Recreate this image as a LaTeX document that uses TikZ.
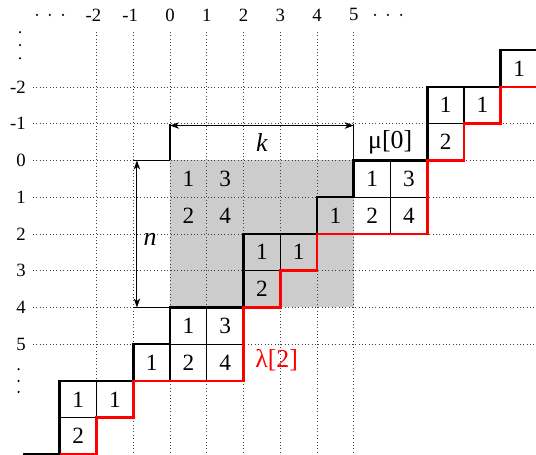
\documentclass[tikz,border=0pt]{standalone}
\usepackage{fontspec}
\setmainfont{Liberation Serif}
\newfontfamily\tmsfont{Liberation Serif}
\usetikzlibrary{arrows.meta}
\begin{document}
\begin{tikzpicture}[x=1cm,y=-1cm,
  gridline/.style={dotted, line width=0.6pt, black!75},
  cellline/.style={line width=0.8pt, black},
  upperpath/.style={line width=2pt, black},
  lowerpath/.style={line width=2pt, red},
  entry/.style={font=\tmsfont\fontsize{18}{20}\selectfont, inner sep=0pt},
  axlab/.style={font=\tmsfont\fontsize{14.5}{16}\selectfont, inner sep=0pt},
  biglab/.style={font=\tmsfont\fontsize{20}{22}\selectfont, inner sep=0pt},
  dimline/.style={line width=0.7pt, {Stealth[length=7pt,width=5pt,inset=2pt]}-{Stealth[length=7pt,width=5pt,inset=2pt]}},
  extline/.style={line width=0.8pt, black},
  dotmark/.style={fill=black}
]
\useasboundingbox (-4.626,-4.366) rectangle (9.959,7.994);
% shaded fundamental region
\fill[black!20] (0,0) rectangle (5,4);
% dotted grid
\foreach \c in {-2,...,5} \draw[gridline] (\c,-3.5) -- (\c,8.1);
\foreach \r in {-2,...,5} \draw[gridline] (-3.73,\r) -- (10.1,\r);
% thin internal cell lines
\foreach \c/\r in {5/0,0/4,10/-4} {
  \draw[cellline] (\c,\r+1) -- (\c+2,\r+1);
  \draw[cellline] (\c+1,\r) -- (\c+1,\r+2);
}
\foreach \c/\r in {2/2,7/-2,-3/6} {
  \draw[cellline] (\c+1,\r) -- (\c+1,\r+1);
  \draw[cellline] (\c,\r+1) -- (\c+1,\r+1);
}
\draw[cellline] (0,5) -- (0,6);
% dimension lines
\coordinate (k0) at (0,-1); \coordinate (k0b) at (0,0);
\coordinate (k5) at (5,-1); \coordinate (k5b) at (5,0);
\coordinate (n0) at (-1,0); \coordinate (n0b) at (0,0);
\coordinate (n4) at (-1,4); \coordinate (n4b) at (0,4);
\draw[extline] (k0) -- (k0b);
\draw[extline] (k5) -- (k5b);
\draw[extline] (n0) -- (n0b);
\draw[extline] (n4) -- (n4b);
\coordinate (ka) at (0,-0.95); \coordinate (kb) at (5,-0.95);
\coordinate (na) at (-0.9,0); \coordinate (nb) at (-0.9,4);
\draw[dimline] (ka) -- (kb);
\draw[dimline] (na) -- (nb);
\node[biglab] (klab) at (2.5,-0.49) {\itshape k};
\node[biglab] (nlab) at (-0.54,2.15) {\itshape n};
% boundary paths
\draw[upperpath] (-4,8) -- (-3,8) -- (-3,6) -- (-1,6) -- (-1,5) -- (0,5) -- (0,4) -- (2,4) -- (2,2) -- (4,2) -- (4,1) -- (5,1) -- (5,0) -- (7,0) -- (7,-2) -- (9,-2) -- (9,-3) -- (10.2,-3);
\draw[lowerpath] (10.2,-2) -- (9,-2) -- (9,-1) -- (8,-1) -- (8,0) -- (7,0) -- (7,2) -- (4,2) -- (4,3) -- (3,3) -- (3,4) -- (2,4) -- (2,6) -- (-1,6) -- (-1,7) -- (-2,7) -- (-2,8) -- (-3,8);
% entries
\foreach \c/\r/\v [count=\i] in {9/-3/1, 7/-2/1, 8/-2/1, 7/-1/2, 5/0/1, 6/0/3, 4/1/1, 5/1/2, 6/1/4, 2/2/1, 3/2/1, 2/3/2, 0/4/1, 1/4/3, -1/5/1, 0/5/2, 1/5/4, -3/6/1, -2/6/1, -3/7/2, 0/0/1, 1/0/3, 0/1/2, 1/1/4}
  \node[entry] (e\i) at (\c+0.5,\r+0.5) {\v};
% labels
\node[biglab] (mulab) at (5.99,-0.505) {μ[0]};
\node[biglab, text=red] (lamlab) at (2.9,5.43) {λ[2]};
% axis labels
\foreach \c/\t [count=\i] in {-2/\llap{-}2, -1/\llap{-}1, 0/0, 1/1, 2/2, 3/3, 4/4, 5/5}
  \node[axlab] (col\i) at (\c,-3.96) {\t};
\foreach \r/\t [count=\i] in {-2/-2, -1/-1, 0/0, 1/1, 2/2, 3/3, 4/4, 5/5}
  \node[axlab, anchor=east] (row\i) at (-3.92,\r) {\t};
% ellipses
\foreach \x in {-3.62,-3.27,-2.91,5.58,5.93,6.29} \fill[dotmark] (\x,-3.96) circle (0.032);
\foreach \y in {-3.49,-3.14,-2.78} \fill[dotmark] (-4.08,\y) circle (0.032);
\foreach \y in {5.68,6.0,6.3} \fill[dotmark] (-4.12,\y) circle (0.032);
\end{tikzpicture}
\end{document}
